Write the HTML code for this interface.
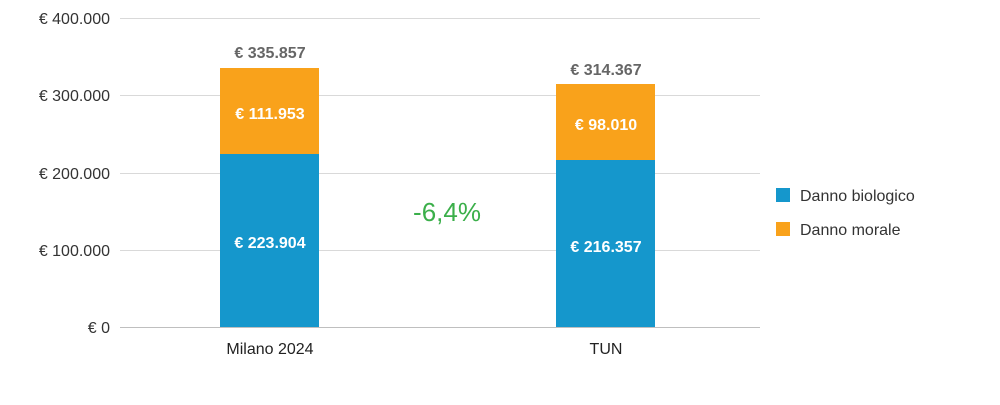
<!DOCTYPE html>
<html><head><meta charset="utf-8"><style>
body{margin:0;background:#fff;}
svg text{font-family:"Liberation Sans",sans-serif;}
</style></head><body>
<svg width="1000" height="400" xmlns="http://www.w3.org/2000/svg">
<g stroke="#d9d9d9" stroke-width="1">
<line x1="120" x2="760" y1="18.5" y2="18.5"/>
<line x1="120" x2="760" y1="95.5" y2="95.5"/>
<line x1="120" x2="760" y1="173.5" y2="173.5"/>
<line x1="120" x2="760" y1="250.5" y2="250.5"/>
</g>
<line x1="120" x2="760" y1="327.5" y2="327.5" stroke="#bfbfbf"/>
<g font-size="16" fill="#333" text-anchor="end">
<text x="110" y="24">€ 400.000</text>
<text x="110" y="101">€ 300.000</text>
<text x="110" y="179">€ 200.000</text>
<text x="110" y="256">€ 100.000</text>
<text x="110" y="333">€ 0</text>
</g>
<rect x="220" y="154" width="99" height="173" fill="#1597CC"/>
<rect x="220" y="68" width="99" height="86" fill="#F9A21B"/>
<rect x="556" y="160" width="99" height="167" fill="#1597CC"/>
<rect x="556" y="84" width="99" height="76" fill="#F9A21B"/>
<g font-size="16" font-weight="bold" text-anchor="middle">
<text x="270" y="58" fill="#666">€ 335.857</text>
<text x="606" y="75" fill="#666">€ 314.367</text>
<text x="270" y="119" fill="#fff">€ 111.953</text>
<text x="270" y="248" fill="#fff">€ 223.904</text>
<text x="606" y="130" fill="#fff">€ 98.010</text>
<text x="606" y="252" fill="#fff">€ 216.357</text>
</g>
<text x="447" y="221" font-size="26" fill="#3BAF4A" text-anchor="middle">-6,4%</text>
<g font-size="16" fill="#222" text-anchor="middle">
<text x="270" y="354">Milano 2024</text>
<text x="606" y="354">TUN</text>
</g>
<rect x="776" y="188" width="14" height="14" fill="#1597CC"/>
<rect x="776" y="222" width="14" height="14" fill="#F9A21B"/>
<g font-size="16" fill="#333">
<text x="800" y="201">Danno biologico</text>
<text x="800" y="235">Danno morale</text>
</g>
</svg>
</body></html>
